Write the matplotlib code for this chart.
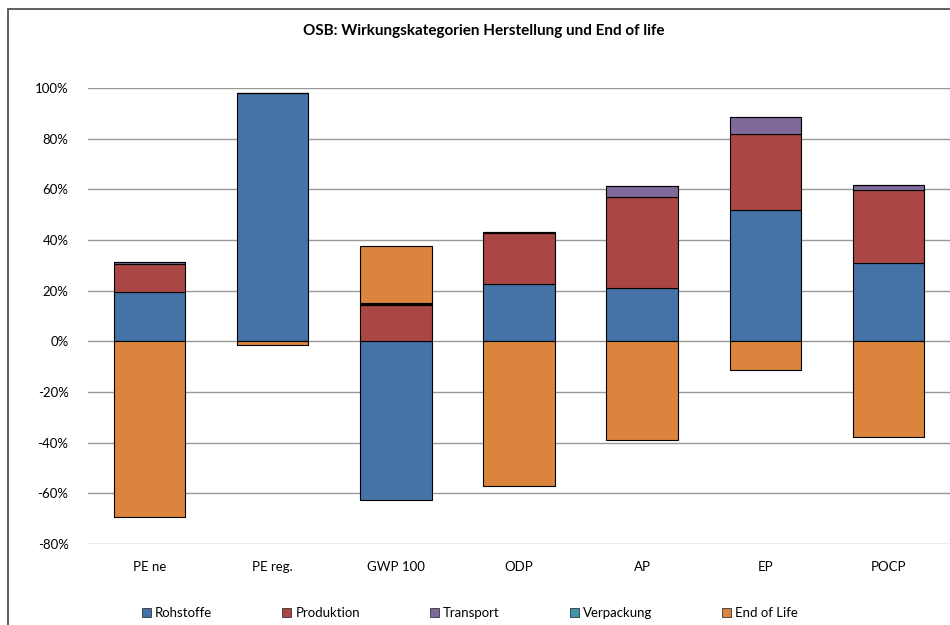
import matplotlib.pyplot as plt
import matplotlib.patches as mpatches
import numpy as np

plt.rcParams['font.family'] = ['Lato', 'DejaVu Sans']

kategorien = ["PE ne", "PE reg.", "GWP 100", "ODP", "AP", "EP", "POCP"]
rohstoffe = [19.5, 98.0, -62.5, 22.5, 21.0, 51.7, 30.8]
produktion = [11.0, 0.0, 14.5, 20.2, 36.0, 30.0, 28.8]
transport = [0.7, 0.0, 0.3, 0.3, 4.2, 6.8, 2.3]
verpackung = [0.2, 0.0, 0.2, 0.2, 0.0, 0.0, 0.0]
end_of_life = [-69.2, -1.6, 22.5, -57.2, -39.1, -11.5, -37.8]

serien = ["Rohstoffe", "Produktion", "Transport", "Verpackung", "End of Life"]
werte = [rohstoffe, produktion, transport, verpackung, end_of_life]
farben = ["#4572A7", "#AA4643", "#80699B", "#3D96AE", "#DB843D"]

fig = plt.figure(figsize=(9.5, 6.25), dpi=100)
ax = fig.add_axes([88/950, 1 - 544/625, 862/950, 456/625])

# outer chart frame (cut off on the right/bottom like in the screenshot)
rahmen = mpatches.Rectangle((8/950, -0.2), 1.2, 1 - 9/625 + 0.2, transform=fig.transFigure,
                            fill=False, edgecolor="#444444", linewidth=1.2, clip_on=False)
fig.patches.append(rahmen)

x = np.arange(len(kategorien))
pos_bottom = np.zeros(len(kategorien))
neg_bottom = np.zeros(len(kategorien))
for name, vals, farbe in zip(serien, werte, farben):
    vals = np.array(vals, dtype=float) / 100
    bottom = np.where(vals >= 0, pos_bottom, neg_bottom)
    ax.bar(x, vals, 0.58, bottom=bottom, color=farbe, edgecolor="black",
           linewidth=0.8, label=name, zorder=3)
    pos_bottom = pos_bottom + np.where(vals >= 0, vals, 0)
    neg_bottom = neg_bottom + np.where(vals < 0, vals, 0)

ax.set_xlim(-0.5, len(kategorien) - 0.5)
ax.set_ylim(-0.8, 1.0)
ax.set_yticks(np.arange(-0.8, 1.01, 0.2))
ax.set_yticklabels([f"{v:.0f}%" for v in np.arange(-80, 101, 20)])
ax.set_xticks(x)
ax.set_xticklabels(kategorien)
ax.tick_params(axis="both", length=0, labelsize=9.5)
ax.tick_params(axis="y", pad=14)
ax.tick_params(axis="x", pad=12)
ax.grid(axis="y", color="#999999", linewidth=1.0, zorder=0)
for s in ax.spines.values():
    s.set_visible(False)

fig.text(484/950, 1 - 31/625, "OSB: Wirkungskategorien Herstellung und End of life",
         ha="center", va="center", fontsize=11, fontweight="bold")

handles = [mpatches.Patch(facecolor=f, edgecolor="#333333", linewidth=0.6) for f in farben]
fig.legend(handles, serien, loc="center", bbox_to_anchor=(470/950, 1 - 613/625), ncol=5,
           frameon=False, fontsize=9.5, handlelength=0.7, handleheight=0.7,
           handletextpad=0.3, columnspacing=5.3)

fig.savefig("out.png", dpi=100)
